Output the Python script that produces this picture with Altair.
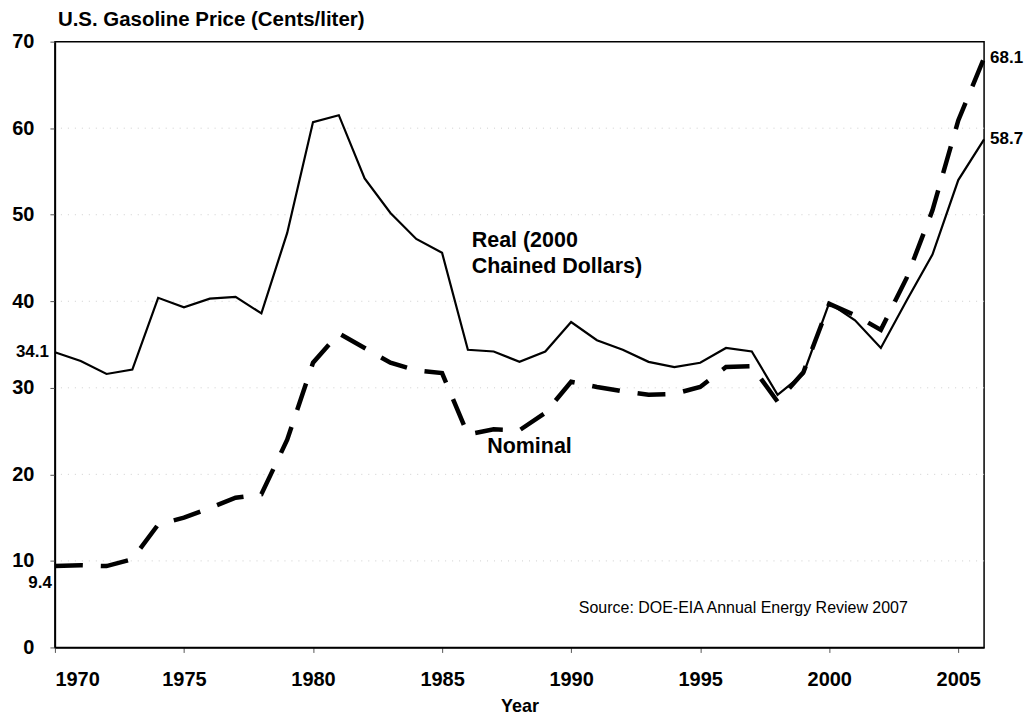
import altair as alt
import pandas as pd

years = list(range(1970, 2007))
real = [34.1, 33.1, 31.6, 32.1, 40.4, 39.3, 40.3, 40.5, 38.6, 47.9,
        60.7, 61.5, 54.2, 50.2, 47.2, 45.6, 34.4, 34.2, 33.0, 34.2,
        37.6, 35.5, 34.4, 33.0, 32.4, 32.9, 34.6, 34.2, 29.2, 31.6,
        39.8, 37.8, 34.6, 40.1, 45.4, 54.0, 58.7]
nominal = [9.4, 9.5, 9.4, 10.2, 14.2, 15.0, 16.1, 17.3, 17.7, 24.0,
           32.9, 36.3, 34.6, 32.9, 32.0, 31.7, 24.6, 25.2, 25.1, 27.1,
           30.7, 30.1, 29.6, 29.2, 29.3, 30.1, 32.4, 32.5, 28.4, 31.8,
           39.7, 38.4, 36.7, 42.7, 50.5, 60.9, 68.1]
y_ticks = [0, 10, 20, 30, 40, 50, 60, 70]
x_ticks = [1970, 1975, 1980, 1985, 1990, 1995, 2000, 2005]
grid_values = [10, 20, 30, 40, 50, 60]

# annotation texts (anchor year, value)
left_labels = ["34.1", "9.4"]
left_label_vals = [34.1, 7.4]
left_label_dx = [-6, -3]
right_labels = ["68.1", "58.7"]
right_label_vals = [68.1, 58.7]

FONT = "Liberation Sans"

df = pd.DataFrame({"year": years, "real": real, "nominal": nominal})

xs = alt.Scale(domain=[1970, 2006], nice=False, zero=False)
ys = alt.Scale(domain=[0, 70], nice=False)

X = alt.X("year:Q", scale=xs,
          axis=alt.Axis(values=x_ticks, format="d", title="Year", grid=False,
                        tickSize=5, labelPadding=17, titlePadding=8,
                        labelFontSize=20, titleFontSize=18))

base = alt.Chart(df)

grid = alt.Chart(pd.DataFrame({"v": grid_values})).mark_rule(
    color="#cfcfcf", strokeWidth=1, strokeDash=[1, 6]
).encode(y=alt.Y("v:Q", scale=ys))

real_line = base.mark_line(color="black", strokeWidth=2.2).encode(
    x=X,
    y=alt.Y("real:Q", scale=ys,
            axis=alt.Axis(values=y_ticks, title=None, grid=False, tickSize=5,
                          labelPadding=16, labelFontSize=20)),
)

nom_line = base.mark_line(color="black", strokeWidth=4.5, strokeDash=[28, 18]).encode(
    x=alt.X("year:Q", scale=xs),
    y=alt.Y("nominal:Q", scale=ys),
)

ann_df = pd.DataFrame({
    "x": [1986.15, 1986.15, 1986.75, 1990.3],
    "y": [46.25, 43.25, 22.5, 4.5],
    "t": ["Real (2000", "Chained Dollars)", "Nominal",
          "Source: DOE-EIA Annual Energy Review 2007"],
    "w": ["bold", "bold", "bold", "normal"],
})

ann_bold = alt.Chart(ann_df[ann_df.w == "bold"]).mark_text(
    align="left", baseline="alphabetic", font=FONT, fontWeight="bold",
    fontSize=21.5, color="black"
).encode(x=alt.X("x:Q", scale=xs), y=alt.Y("y:Q", scale=ys), text="t:N")

ann_src = alt.Chart(ann_df[ann_df.w == "normal"]).mark_text(
    align="left", baseline="middle", font=FONT, fontSize=16, color="black"
).encode(x=alt.X("x:Q", scale=xs), y=alt.Y("y:Q", scale=ys), text="t:N")

left_df = pd.DataFrame({"x": [1970, 1970], "y": left_label_vals,
                        "t": left_labels, "dx": left_label_dx})
left_txt = alt.layer(*[
    alt.Chart(left_df.iloc[[i]]).mark_text(
        align="right", baseline="middle", dx=int(left_df.dx.iloc[i]), font=FONT,
        fontWeight="bold", fontSize=17, color="black"
    ).encode(x=alt.X("x:Q", scale=xs), y=alt.Y("y:Q", scale=ys), text="t:N")
    for i in range(len(left_df))
])

right_df = pd.DataFrame({"x": [2006, 2006], "y": right_label_vals, "t": right_labels})
right_txt = alt.Chart(right_df).mark_text(
    align="left", baseline="middle", dx=6, font=FONT, fontWeight="bold",
    fontSize=17, color="black"
).encode(x=alt.X("x:Q", scale=xs), y=alt.Y("y:Q", scale=ys), text="t:N")

chart = alt.layer(
    grid, real_line, nom_line, ann_bold, ann_src, left_txt, right_txt
).properties(
    width=931, height=607,
    autosize="none",
    padding={"left": 47, "top": 33, "right": 42, "bottom": 72},
    title=alt.TitleParams(
        "U.S. Gasoline Price (Cents/liter)", anchor="start", frame="group",
        font=FONT, fontSize=20.5, fontWeight="bold", color="black", offset=4,
        dx=3, dy=3
    ),
).configure_view(
    stroke="black", strokeWidth=1.5
).configure_axis(
    labelFont=FONT, labelFontWeight="bold", labelColor="black",
    titleFont=FONT, titleFontWeight="bold", titleColor="black",
    domainColor="black", domainWidth=1.5, tickColor="#555555", tickWidth=1
)

chart.save("out.html", embed_options={"renderer": "svg", "actions": False})
